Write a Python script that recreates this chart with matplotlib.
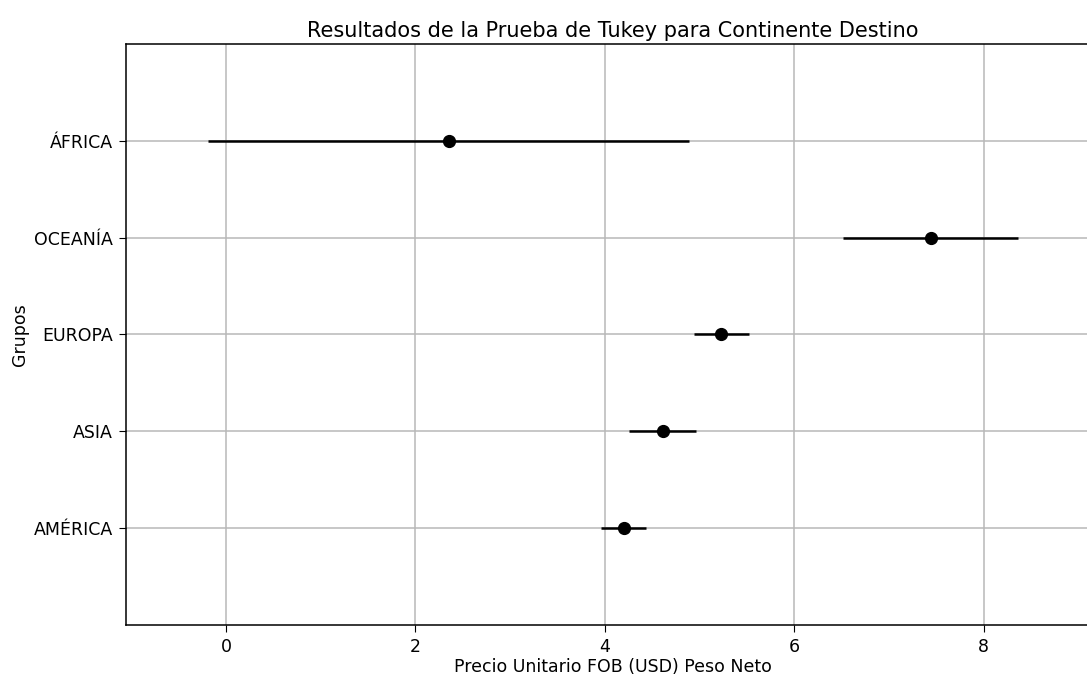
import numpy as np
import matplotlib
matplotlib.use('Agg')
import matplotlib.pyplot as plt

######### Datos #########
grupos = ['AMÉRICA', 'ASIA', 'EUROPA', 'OCEANÍA', 'ÁFRICA']
medias = np.array([4.20, 4.61, 5.23, 7.44, 2.35])
semi_ancho = np.array([0.235, 0.35, 0.29, 0.92, 2.54])

# la figura original parece escalada ~1.25x
plt.rcParams['font.size'] = 12.5
plt.rcParams['xtick.major.size'] = 5
plt.rcParams['ytick.major.size'] = 5
plt.rcParams['xtick.major.pad'] = 4.5
plt.rcParams['ytick.major.pad'] = 4.5
plt.rcParams['axes.linewidth'] = 1.1

############################# Plot
fig = plt.figure(figsize = (10.87, 6.77), dpi = 100)
# el eje derecho queda fuera de la imagen (recortada)
ax = fig.add_axes([0.116, 0.077, 0.896, 0.858])

pos = np.arange(len(grupos))
ax.errorbar(medias,
			pos,
			xerr = semi_ancho,
			marker = 'o',
			markersize = 8.5,
			linestyle = 'None',
			color = 'k',
			ecolor = 'k',
			elinewidth = 1.8)

ax.set_yticks(pos)
ax.set_yticklabels(grupos)
ax.set_ylim(-1, len(grupos))
ax.set_xlim(-1.055, 9.23)
ax.grid(True, color = '#b8b8b8', linewidth = 1.1)
ax.spines['right'].set_visible(False)

ax.set_xlabel('Precio Unitario FOB (USD) Peso Neto', labelpad = 1.5)
ax.set_ylabel('Grupos', labelpad = 3)
ax.set_title('Resultados de la Prueba de Tukey para Continente Destino', fontsize = 15, pad = 5)

fig.savefig('out.png', dpi = 100)
